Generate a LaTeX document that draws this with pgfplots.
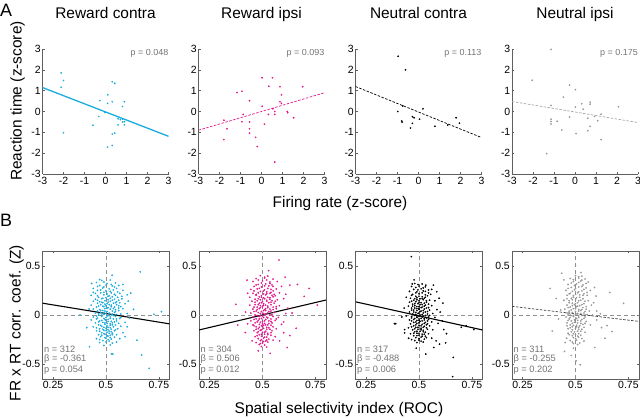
\documentclass[border=0pt]{standalone}
\usepackage{fontspec}
\setmainfont{Liberation Sans}
\usepackage{pgfplots}
\pgfplotsset{compat=1.18}
\definecolor{cy}{RGB}{25,172,222}
\definecolor{mg}{RGB}{228,22,140}
\definecolor{gr}{RGB}{150,150,150}
\definecolor{axg}{RGB}{95,95,95}
\definecolor{txg}{RGB}{115,115,115}
\newcommand{\lab}{\fontsize{15.5}{18}\selectfont}
\tikzset{
 ptxt/.style={anchor=east, text=txg, font=\fontsize{9}{9}\selectfont, inner sep=0pt},
 btxt/.style={anchor=west, text=txg, font=\fontsize{9.3}{9}\selectfont, inner sep=0pt},
 zl/.style={axg!70, dash pattern=on 4bp off 3bp, line width=0.5bp}
}
\pgfplotsset{
 Aaxis/.style={scale only axis, width=126bp, height=125bp, anchor=south west,
   xmin=-3, xmax=3, ymin=-3, ymax=3,
   axis x line*=bottom, axis y line*=left,
   axis line style={axg, line width=0.6bp},
   tick align=inside, major tick length=2bp, tick style={axg, line width=0.5bp},
   xtick={-3,-2,-1,0,1,2,3}, ytick={-3,-2,-1,0,1,2,3},
   xticklabels={-3,-2,-1,0,1,2,3}, yticklabels={-3,-2,-1,0,1,2,3},
   tick label style={font=\fontsize{10.5}{10}\selectfont},
   xticklabel style={inner xsep=1.3bp, inner ysep=0bp, yshift=-3.2bp},
   yticklabel style={inner xsep=1.5bp, inner ysep=0bp}},
 Baxis/.style={scale only axis, width=127bp, height=128bp, anchor=south west,
   xmin=0.2, xmax=0.8, ymin=-0.65, ymax=0.65,
   axis line style={axg, line width=0.6bp},
   tick align=inside, major tick length=2bp, tick style={axg, line width=0.5bp},
   xtick={0.25,0.5,0.75}, xticklabels={0.25,0.5,0.75},
   ytick={-0.5,0,0.5}, yticklabels={-0.5,0,0.5},
   tick label style={font=\fontsize{10.5}{10}\selectfont},
   xticklabel style={inner sep=2bp}, yticklabel style={inner sep=2bp}},
 pts/.style={only marks, mark=*, mark size=0.7bp, mark options={draw=#1, fill=#1, line width=0.3bp}}
}
\begin{document}
\begin{tikzpicture}
\path[use as bounding box] (0,0) rectangle (640bp,418bp);
% ---------- Panel A ----------
\begin{axis}[Aaxis, at={(42.5bp,244bp)}]
\addplot[pts=cy] coordinates {(-2.11,1.85)(-2.0,1.49)(-2.11,1.16)(-2.0,-1.02)(-0.27,0.52)(0.11,0.8)(0.1,0.39)(0.32,1.43)(0.44,1.35)(0.32,0.47)(0.9,0.47)(0.81,0.24)(-0.02,-0.05)(-0.32,-0.24)(-0.6,-0.66)(0.6,-0.35)(0.6,-0.64)(0.81,-0.36)(0.81,-0.5)(0.9,-0.49)(0.9,-0.64)(0.71,-0.39)(0.32,-1.08)(0.44,-1.04)(0.1,-1.71)(0.32,-1.63)};
\addplot[cy, line width=1.3bp] coordinates {(-3,1.15)(3,-1.19)};
\node[ptxt] at (axis cs:3,2.8) {p = 0.048};
\end{axis}
\begin{axis}[Aaxis, at={(198.5bp,244bp)}]
\addplot[pts=mg] coordinates {(0.03,1.62)(0.52,1.62)(0.35,1.21)(0.88,1.19)(1.96,1.19)(-1.17,0.91)(-0.93,0.97)(-0.57,0.52)(0.95,0.8)(0.88,0.47)(0.95,0.39)(0.03,0.25)(0.54,0.13)(0.63,0)(0.63,-0.14)(0.33,-0.14)(1.23,0)(1.25,-0.06)(1.53,-0.3)(-0.87,-0.14)(-0.93,-0.49)(-1.79,-0.42)(-1.64,-0.83)(-1.79,-1.35)(-0.57,-0.5)(-0.57,-0.83)(-0.57,-1.04)(-0.28,-1.24)(-0.2,-1.68)(0.14,-0.61)(0.63,-2.43)};
\addplot[mg, line width=0.7bp, dash pattern=on 2.5bp off 1.5bp] coordinates {(-3,-0.9)(3,0.9)};
\node[ptxt] at (axis cs:3,2.8) {p = 0.093};
\end{axis}
\begin{axis}[Aaxis, at={(355.5bp,244bp)}]
\addplot[pts=black] coordinates {(-0.97,2.65)(-0.62,2.0)(-0.99,0)(-0.8,-0.46)(-0.78,-0.51)(-0.29,-0.25)(-0.21,-0.3)(-0.29,-0.57)(-0.38,-0.79)(0.05,-0.37)(0.21,0.13)(0.78,-0.71)(1.39,-0.65)(1.79,-0.3)(1.95,-0.56)(-0.75,0.27)};
\addplot[black, line width=0.7bp, dash pattern=on 2.5bp off 1.5bp] coordinates {(-3,1.2)(3,-1.25)};
\node[ptxt] at (axis cs:3,2.8) {p = 0.113};
\end{axis}
\begin{axis}[Aaxis, at={(512bp,244bp)}]
\addplot[pts=gr] coordinates {(-1.14,2.98)(-2.04,1.5)(-0.26,1.27)(0.02,1.05)(-0.55,0.69)(-1.14,0.29)(0.32,0.37)(0.72,0.45)(0.72,0.35)(0.02,0.21)(0.39,0.11)(2.07,0.23)(-0.26,-0.26)(-0.85,-0.47)(-1.14,-0.37)(-1.14,-0.48)(-1.14,-0.6)(-0.63,-0.89)(0.05,-1.06)(0.61,-0.32)(0.93,-0.24)(1.08,-0.44)(1.24,-0.13)(0.72,-0.71)(0.61,-0.92)(1.24,-1.35)(-1.35,-2.02)};
\addplot[gr!85, line width=0.7bp, dash pattern=on 2.5bp off 1.5bp] coordinates {(-3,0.48)(3,-0.53)};
\node[ptxt] at (axis cs:3,2.8) {p = 0.175};
\end{axis}
% ---------- Panel B ----------
\begin{axis}[Baxis, at={(42.5bp,39bp)}]
\addplot[zl] coordinates {(0.5,-0.65)(0.5,0.65)};
\addplot[zl] coordinates {(0.2,0)(0.8,0)};
\addplot[pts=cy] coordinates {
(0.47,0.36)(0.52,0.355)(0.455,0.33)(0.49,0.335)(0.545,0.325)
(0.47,0.30)(0.50,0.305)(0.53,0.295)(0.56,0.30)(0.44,0.27)(0.485,0.275)(0.515,0.265)(0.55,0.27)
(0.46,0.25)(0.50,0.245)(0.535,0.255)(0.58,0.25)(0.45,0.22)(0.475,0.225)(0.505,0.215)(0.525,0.225)(0.565,0.22)
(0.43,0.20)(0.49,0.205)(0.515,0.195)(0.545,0.20)(0.60,0.205)(0.465,0.18)(0.50,0.175)(0.53,0.185)(0.555,0.18)
(0.45,0.16)(0.48,0.165)(0.51,0.155)(0.54,0.16)(0.575,0.165)(0.44,0.14)(0.47,0.135)(0.495,0.145)(0.52,0.14)(0.55,0.135)
(0.46,0.12)(0.485,0.125)(0.505,0.115)(0.535,0.12)(0.565,0.125)(0.59,0.115)(0.43,0.10)(0.475,0.105)(0.50,0.095)(0.525,0.10)(0.55,0.105)
(0.455,0.08)(0.49,0.085)(0.51,0.075)(0.54,0.08)(0.57,0.085)(0.44,0.06)(0.47,0.055)(0.495,0.065)(0.52,0.06)(0.545,0.055)(0.58,0.065)
(0.46,0.04)(0.485,0.045)(0.505,0.035)(0.53,0.04)(0.56,0.045)(0.45,0.02)(0.475,0.025)(0.50,0.015)(0.515,0.02)(0.54,0.025)(0.60,0.015)
(0.465,0.00)(0.49,0.005)(0.51,-0.005)(0.525,0.00)(0.55,0.005)(0.44,-0.02)(0.48,-0.015)(0.50,-0.025)(0.52,-0.02)(0.545,-0.015)(0.57,-0.025)
(0.455,-0.04)(0.49,-0.035)(0.51,-0.045)(0.535,-0.04)(0.565,-0.035)(0.47,-0.06)(0.50,-0.055)(0.525,-0.065)(0.55,-0.06)
(0.45,-0.08)(0.485,-0.075)(0.505,-0.085)(0.53,-0.08)(0.59,-0.075)(0.465,-0.10)(0.495,-0.095)(0.52,-0.105)(0.545,-0.10)
(0.44,-0.12)(0.48,-0.115)(0.51,-0.125)(0.535,-0.12)(0.57,-0.115)(0.47,-0.14)(0.50,-0.135)(0.525,-0.145)(0.555,-0.14)
(0.455,-0.16)(0.49,-0.155)(0.515,-0.165)(0.54,-0.16)(0.48,-0.18)(0.505,-0.175)(0.53,-0.185)(0.58,-0.18)
(0.465,-0.20)(0.495,-0.195)(0.52,-0.205)(0.55,-0.20)(0.475,-0.22)(0.51,-0.215)(0.54,-0.225)
(0.455,-0.24)(0.50,-0.235)(0.525,-0.245)(0.565,-0.24)(0.485,-0.26)(0.515,-0.265)(0.47,-0.28)(0.53,-0.285)(0.55,-0.275)(0.49,-0.31)(0.52,-0.305)
(0.662,0.438)(0.727,0.007)(0.762,0.034)(0.377,0)(0.409,-0.128)(0.422,-0.323)(0.532,-0.397)(0.526,-0.397)(0.646,-0.256)(0.668,-0.407)(0.704,-0.542)
(0.529,0.404)(0.432,0.32)(0.617,0.222)(0.605,0.141)(0.63,0.057)(0.61,-0.03)(0.60,-0.12)(0.42,0.06)(0.43,-0.05)(0.58,0.31)(0.59,-0.22)};
\addplot[pts=cy] coordinates {
(0.48,0.35)(0.505,0.32)(0.525,0.31)(0.46,0.29)(0.49,0.285)(0.54,0.285)(0.475,0.255)(0.52,0.24)(0.555,0.235)(0.44,0.23)(0.49,0.23)(0.54,0.21)
(0.46,0.195)(0.51,0.19)(0.575,0.19)(0.485,0.17)(0.52,0.17)(0.46,0.15)(0.53,0.15)(0.56,0.15)(0.48,0.13)(0.51,0.13)(0.545,0.125)(0.495,0.11)
(0.515,0.105)(0.56,0.095)(0.465,0.09)(0.485,0.09)(0.525,0.085)(0.505,0.07)(0.535,0.065)(0.56,0.07)(0.475,0.045)(0.495,0.04)(0.545,0.035)
(0.465,0.015)(0.49,0.02)(0.53,0.01)(0.57,0.01)(0.455,-0.01)(0.48,0.0)(0.505,-0.01)(0.535,-0.005)(0.46,-0.03)(0.495,-0.045)(0.52,-0.035)
(0.55,-0.04)(0.48,-0.055)(0.51,-0.065)(0.54,-0.07)(0.465,-0.07)(0.495,-0.08)(0.52,-0.09)(0.56,-0.085)(0.475,-0.105)(0.505,-0.11)(0.53,-0.1)
(0.455,-0.13)(0.49,-0.125)(0.52,-0.13)(0.485,-0.145)(0.51,-0.15)(0.545,-0.15)(0.47,-0.165)(0.5,-0.16)(0.525,-0.17)(0.49,-0.19)(0.515,-0.185)
(0.48,-0.205)(0.505,-0.21)(0.53,-0.2)(0.495,-0.23)(0.52,-0.23)(0.47,-0.25)(0.51,-0.25)(0.5,-0.275)};
\addplot[black, line width=1.1bp] coordinates {(0.2,0.12)(0.8,-0.09)};
\node[btxt] at (axis cs:0.207,-0.35) {n = 312};
\node[btxt] at (axis cs:0.207,-0.452) {β = -0.361};
\node[btxt] at (axis cs:0.207,-0.556) {p = 0.054};
\end{axis}
\begin{axis}[Baxis, at={(199bp,39bp)}]
\addplot[zl] coordinates {(0.5,-0.65)(0.5,0.65)};
\addplot[zl] coordinates {(0.2,0)(0.8,0)};
\addplot[pts=mg] coordinates {
(0.49,0.40)(0.525,0.395)(0.47,0.37)(0.51,0.375)(0.55,0.365)(0.455,0.34)(0.50,0.345)(0.535,0.335)(0.57,0.34)
(0.48,0.31)(0.515,0.315)(0.545,0.305)(0.46,0.29)(0.495,0.285)(0.53,0.295)(0.59,0.29)
(0.445,0.26)(0.475,0.265)(0.51,0.255)(0.54,0.26)(0.565,0.265)(0.49,0.24)(0.52,0.235)(0.55,0.245)
(0.455,0.22)(0.48,0.225)(0.505,0.215)(0.535,0.22)(0.58,0.225)(0.47,0.20)(0.495,0.195)(0.515,0.205)(0.545,0.20)(0.56,0.195)
(0.44,0.18)(0.485,0.185)(0.505,0.175)(0.525,0.18)(0.55,0.185)(0.465,0.16)(0.49,0.155)(0.51,0.165)(0.535,0.16)(0.57,0.155)(0.60,0.165)
(0.45,0.14)(0.475,0.145)(0.50,0.135)(0.52,0.14)(0.545,0.145)(0.485,0.12)(0.505,0.115)(0.53,0.125)(0.555,0.12)
(0.44,0.10)(0.465,0.105)(0.49,0.095)(0.515,0.10)(0.54,0.105)(0.58,0.095)(0.475,0.08)(0.50,0.085)(0.525,0.075)(0.55,0.08)
(0.455,0.06)(0.485,0.065)(0.51,0.055)(0.535,0.06)(0.565,0.065)(0.47,0.04)(0.495,0.035)(0.515,0.045)(0.54,0.04)
(0.445,0.02)(0.48,0.025)(0.505,0.015)(0.525,0.02)(0.555,0.025)(0.61,0.015)(0.465,0.00)(0.49,-0.005)(0.51,0.005)(0.535,0.00)
(0.455,-0.02)(0.485,-0.015)(0.505,-0.025)(0.52,-0.02)(0.55,-0.015)(0.575,-0.025)(0.47,-0.04)(0.495,-0.035)(0.515,-0.045)(0.54,-0.04)
(0.445,-0.06)(0.48,-0.055)(0.50,-0.065)(0.53,-0.06)(0.56,-0.055)(0.465,-0.08)(0.49,-0.075)(0.51,-0.085)(0.545,-0.08)
(0.455,-0.10)(0.485,-0.095)(0.505,-0.105)(0.525,-0.10)(0.59,-0.095)(0.47,-0.12)(0.50,-0.115)(0.52,-0.125)(0.55,-0.12)
(0.48,-0.14)(0.505,-0.135)(0.535,-0.145)(0.565,-0.14)(0.46,-0.16)(0.49,-0.155)(0.515,-0.165)(0.545,-0.16)
(0.475,-0.18)(0.50,-0.175)(0.525,-0.185)(0.60,-0.18)(0.485,-0.20)(0.51,-0.195)(0.54,-0.205)
(0.465,-0.22)(0.495,-0.215)(0.52,-0.225)(0.56,-0.22)(0.48,-0.24)(0.505,-0.235)(0.53,-0.245)
(0.49,-0.26)(0.515,-0.265)(0.55,-0.255)(0.47,-0.28)(0.50,-0.285)(0.525,-0.275)(0.485,-0.30)(0.51,-0.305)(0.495,-0.32)(0.52,-0.325)
(0.578,0.559)(0.529,0.451)(0.427,0.354)(0.607,0.384)(0.629,0.303)(0.665,0.31)(0.697,0.189)(0.72,0.27)(0.759,0.101)
(0.374,0.108)(0.383,-0.101)(0.419,-0.178)(0.659,-0.135)(0.629,-0.209)(0.617,-0.33)(0.536,-0.39)(0.48,-0.364)(0.581,-0.263)(0.451,-0.263)
(0.42,0.03)(0.43,0.22)(0.62,0.07)(0.61,0.21)(0.64,0.02)(0.60,-0.07)(0.43,-0.09)};
\addplot[pts=mg] coordinates {
(0.51,0.385)(0.48,0.355)(0.52,0.355)(0.495,0.325)(0.535,0.32)(0.47,0.305)(0.51,0.295)(0.55,0.29)(0.485,0.27)(0.525,0.27)(0.46,0.245)(0.505,0.245)
(0.54,0.23)(0.47,0.21)(0.52,0.215)(0.555,0.21)(0.495,0.18)(0.535,0.175)(0.48,0.165)(0.52,0.15)(0.56,0.14)(0.465,0.13)(0.495,0.125)(0.54,0.13)
(0.48,0.105)(0.505,0.1)(0.525,0.09)(0.565,0.085)(0.46,0.08)(0.49,0.075)(0.515,0.065)(0.55,0.055)(0.475,0.055)(0.505,0.045)(0.53,0.035)(0.46,0.035)
(0.49,0.015)(0.515,0.01)(0.545,0.005)(0.475,-0.005)(0.5,-0.01)(0.525,-0.03)(0.565,-0.04)(0.46,-0.045)(0.485,-0.04)(0.51,-0.06)(0.54,-0.065)
(0.475,-0.07)(0.5,-0.09)(0.53,-0.085)(0.46,-0.11)(0.495,-0.11)(0.515,-0.1)(0.54,-0.105)(0.485,-0.125)(0.53,-0.13)(0.47,-0.145)(0.495,-0.15)
(0.52,-0.145)(0.48,-0.17)(0.51,-0.175)(0.54,-0.18)(0.495,-0.195)(0.525,-0.2)(0.475,-0.21)(0.51,-0.225)(0.495,-0.25)(0.52,-0.255)(0.505,-0.27)(0.49,-0.29)};
\addplot[black, line width=1.1bp] coordinates {(0.2,-0.152)(0.8,0.152)};
\node[btxt] at (axis cs:0.207,-0.35) {n = 304};
\node[btxt] at (axis cs:0.207,-0.452) {β = 0.506};
\node[btxt] at (axis cs:0.207,-0.556) {p = 0.012};
\end{axis}
\begin{axis}[Baxis, at={(355.5bp,39bp)}]
\addplot[zl] coordinates {(0.5,-0.65)(0.5,0.65)};
\addplot[zl] coordinates {(0.2,0)(0.8,0)};
\addplot[pts=black] coordinates {
(0.48,0.32)(0.515,0.315)(0.465,0.29)(0.50,0.295)(0.53,0.285)(0.475,0.26)(0.51,0.265)(0.545,0.255)(0.56,0.26)
(0.455,0.24)(0.49,0.235)(0.52,0.245)(0.47,0.21)(0.50,0.215)(0.53,0.205)(0.555,0.21)(0.485,0.19)(0.515,0.185)(0.54,0.195)
(0.46,0.17)(0.49,0.175)(0.505,0.165)(0.525,0.17)(0.475,0.15)(0.50,0.145)(0.52,0.155)(0.55,0.15)(0.575,0.145)
(0.455,0.13)(0.485,0.135)(0.51,0.125)(0.535,0.13)(0.47,0.11)(0.495,0.115)(0.515,0.105)(0.545,0.11)
(0.45,0.09)(0.48,0.095)(0.50,0.085)(0.525,0.09)(0.56,0.095)(0.465,0.07)(0.49,0.065)(0.51,0.075)(0.535,0.07)
(0.475,0.05)(0.50,0.055)(0.52,0.045)(0.55,0.05)(0.585,0.055)(0.455,0.03)(0.485,0.025)(0.505,0.035)(0.53,0.03)
(0.47,0.01)(0.495,0.015)(0.515,0.005)(0.54,0.01)(0.565,0.015)(0.44,-0.01)(0.48,-0.005)(0.50,-0.015)(0.52,-0.01)(0.55,-0.005)
(0.465,-0.03)(0.49,-0.025)(0.51,-0.035)(0.535,-0.03)(0.575,-0.025)(0.455,-0.05)(0.475,-0.045)(0.50,-0.055)(0.525,-0.05)(0.545,-0.045)
(0.485,-0.07)(0.505,-0.065)(0.53,-0.075)(0.56,-0.07)(0.46,-0.09)(0.49,-0.085)(0.515,-0.095)(0.54,-0.09)(0.59,-0.085)
(0.475,-0.11)(0.50,-0.105)(0.525,-0.115)(0.55,-0.11)(0.45,-0.13)(0.485,-0.125)(0.51,-0.135)(0.535,-0.13)
(0.47,-0.15)(0.495,-0.145)(0.52,-0.155)(0.565,-0.15)(0.48,-0.17)(0.505,-0.165)(0.53,-0.175)
(0.46,-0.19)(0.49,-0.185)(0.515,-0.195)(0.545,-0.19)(0.475,-0.21)(0.50,-0.205)(0.53,-0.215)
(0.485,-0.23)(0.51,-0.225)(0.56,-0.235)(0.465,-0.25)(0.50,-0.255)(0.525,-0.245)(0.49,-0.28)(0.52,-0.275)
(0.464,0.593)(0.39,-0.088)(0.384,-0.088)(0.662,-0.431)(0.659,-0.626)(0.532,-0.397)(0.487,-0.337)(0.57,-0.33)
(0.759,-0.148)(0.723,-0.108)(0.70,-0.125)(0.617,-0.148)(0.63,-0.189)(0.568,0.303)(0.532,0.303)(0.477,0.357)(0.468,0.316)
(0.584,0.236)(0.613,0.121)(0.419,-0.02)(0.432,-0.148)(0.432,-0.182)(0.451,-0.236)(0.626,-0.283)(0.581,-0.263)(0.597,-0.296)
(0.60,0.03)(0.61,-0.06)(0.43,0.07)(0.44,0.18)(0.595,0.17)};
\addplot[pts=black] coordinates {
(0.495,0.31)(0.485,0.28)(0.52,0.275)(0.495,0.255)(0.53,0.24)(0.485,0.225)(0.515,0.225)(0.545,0.225)(0.465,0.2)(0.5,0.19)(0.53,0.18)(0.48,0.165)
(0.515,0.165)(0.49,0.155)(0.535,0.145)(0.465,0.14)(0.5,0.125)(0.525,0.12)(0.48,0.115)(0.505,0.105)(0.53,0.1)(0.47,0.09)(0.49,0.085)(0.515,0.08)
(0.545,0.075)(0.48,0.07)(0.5,0.065)(0.525,0.06)(0.465,0.05)(0.49,0.045)(0.51,0.04)(0.54,0.035)(0.475,0.03)(0.5,0.02)(0.52,0.02)(0.485,0.005)
(0.505,0.0)(0.53,-0.005)(0.465,-0.015)(0.49,-0.02)(0.515,-0.02)(0.545,-0.02)(0.48,-0.035)(0.5,-0.04)(0.525,-0.035)(0.465,-0.06)(0.49,-0.055)
(0.515,-0.06)(0.54,-0.06)(0.475,-0.075)(0.5,-0.08)(0.525,-0.085)(0.485,-0.1)(0.51,-0.11)(0.535,-0.1)(0.465,-0.12)(0.495,-0.125)(0.52,-0.125)
(0.48,-0.14)(0.51,-0.15)(0.54,-0.145)(0.49,-0.165)(0.52,-0.17)(0.475,-0.185)(0.5,-0.185)(0.525,-0.195)(0.49,-0.21)(0.515,-0.215)(0.5,-0.24)
(0.535,-0.23)(0.48,-0.26)(0.51,-0.265)};
\addplot[black, line width=1.1bp] coordinates {(0.2,0.134)(0.8,-0.152)};
\node[btxt] at (axis cs:0.207,-0.35) {n = 317};
\node[btxt] at (axis cs:0.207,-0.452) {β = -0.488};
\node[btxt] at (axis cs:0.207,-0.556) {p = 0.006};
\end{axis}
\begin{axis}[Baxis, at={(512bp,39bp)}]
\addplot[zl] coordinates {(0.5,-0.65)(0.5,0.65)};
\addplot[zl] coordinates {(0.2,0)(0.8,0)};
\addplot[pts=gr] coordinates {
(0.50,0.40)(0.53,0.395)(0.475,0.37)(0.515,0.375)(0.545,0.365)(0.49,0.34)(0.525,0.345)(0.56,0.335)
(0.465,0.31)(0.505,0.315)(0.535,0.305)(0.48,0.28)(0.515,0.285)(0.55,0.275)(0.455,0.25)(0.495,0.255)(0.53,0.245)(0.57,0.25)
(0.475,0.22)(0.51,0.225)(0.54,0.215)(0.46,0.20)(0.49,0.195)(0.52,0.205)(0.555,0.20)(0.48,0.17)(0.505,0.175)(0.535,0.165)
(0.445,0.15)(0.47,0.145)(0.50,0.155)(0.525,0.15)(0.56,0.145)(0.485,0.12)(0.51,0.125)(0.54,0.115)
(0.46,0.10)(0.495,0.105)(0.52,0.095)(0.575,0.10)(0.475,0.08)(0.505,0.085)(0.535,0.075)
(0.45,0.06)(0.49,0.065)(0.515,0.055)(0.55,0.06)(0.47,0.04)(0.50,0.035)(0.525,0.045)(0.565,0.04)
(0.46,0.02)(0.485,0.025)(0.51,0.015)(0.54,0.02)(0.475,0.00)(0.50,0.005)(0.53,-0.005)(0.58,0.00)
(0.455,-0.02)(0.49,-0.015)(0.515,-0.025)(0.545,-0.02)(0.47,-0.04)(0.505,-0.035)(0.53,-0.045)
(0.48,-0.06)(0.51,-0.055)(0.55,-0.065)(0.46,-0.08)(0.495,-0.075)(0.525,-0.085)
(0.475,-0.10)(0.505,-0.105)(0.535,-0.095)(0.57,-0.10)(0.485,-0.12)(0.515,-0.125)
(0.465,-0.14)(0.50,-0.135)(0.53,-0.145)(0.48,-0.17)(0.51,-0.165)(0.545,-0.175)
(0.47,-0.20)(0.50,-0.195)(0.525,-0.205)(0.49,-0.23)(0.515,-0.225)(0.475,-0.26)(0.505,-0.255)(0.54,-0.265)(0.49,-0.29)(0.52,-0.285)
(0.50,0.505)(0.435,0.424)(0.38,0.27)(0.526,0.431)(0.662,0.229)(0.727,0.118)(0.39,-0.162)(0.672,-0.168)(0.649,-0.108)
(0.623,-0.128)(0.639,-0.236)(0.591,-0.33)(0.448,-0.37)(0.48,-0.411)(0.49,-0.337)(0.503,-0.465)(0.523,-0.505)(0.458,-0.236)
(0.451,-0.28)(0.597,0.192)(0.586,0.125)(0.60,0.04)(0.618,0.013)(0.445,0.357)(0.409,0.168)(0.43,0.05)(0.42,-0.04)(0.60,-0.05)(0.59,0.28)};
\addplot[pts=gr] coordinates {
(0.515,0.39)(0.49,0.36)(0.53,0.355)(0.48,0.325)(0.515,0.33)(0.55,0.32)(0.495,0.3)(0.53,0.29)(0.465,0.27)(0.5,0.27)(0.54,0.26)(0.485,0.24)
(0.515,0.235)(0.555,0.23)(0.47,0.215)(0.5,0.21)(0.535,0.2)(0.49,0.18)(0.52,0.18)(0.46,0.165)(0.485,0.155)(0.515,0.145)(0.545,0.14)(0.47,0.125)
(0.5,0.115)(0.53,0.105)(0.485,0.095)(0.51,0.09)(0.55,0.085)(0.465,0.075)(0.5,0.065)(0.53,0.055)(0.48,0.05)(0.515,0.04)(0.545,0.035)(0.47,0.02)
(0.5,0.02)(0.525,0.015)(0.555,0.005)(0.465,0.0)(0.49,-0.005)(0.515,-0.01)(0.475,-0.025)(0.5,-0.03)(0.54,-0.035)(0.465,-0.055)(0.495,-0.05)
(0.525,-0.06)(0.485,-0.085)(0.51,-0.08)(0.545,-0.085)(0.46,-0.11)(0.49,-0.105)(0.52,-0.11)(0.475,-0.13)(0.505,-0.12)(0.54,-0.125)(0.485,-0.15)
(0.515,-0.145)(0.495,-0.17)(0.525,-0.165)(0.465,-0.185)(0.49,-0.19)(0.515,-0.19)(0.485,-0.21)(0.51,-0.215)(0.5,-0.24)(0.53,-0.24)(0.485,-0.275)(0.51,-0.3)};
\addplot[black!75, line width=0.7bp, dash pattern=on 2.5bp off 1.5bp] coordinates {(0.2,0.088)(0.8,-0.065)};
\node[btxt] at (axis cs:0.207,-0.35) {n = 311};
\node[btxt] at (axis cs:0.207,-0.452) {β = -0.255};
\node[btxt] at (axis cs:0.207,-0.556) {p = 0.202};
\end{axis}
% ---------- Outer text ----------
\node[anchor=base west, inner sep=0pt, font=\fontsize{18}{18}\selectfont] at (0bp,401.5bp) {A};
\node[anchor=base west, inner sep=0pt, font=\fontsize{18}{18}\selectfont] at (0bp,191.3bp) {B};
\node[anchor=base, inner sep=0pt, font=\lab] at (105.5bp,399.5bp) {Reward contra};
\node[anchor=base, inner sep=0pt, font=\lab] at (261.5bp,399.5bp) {Reward ipsi};
\node[anchor=base, inner sep=0pt, font=\lab] at (418.5bp,399.5bp) {Neutral contra};
\node[anchor=base, inner sep=0pt, font=\lab] at (575bp,399.5bp) {Neutral ipsi};
\node[anchor=base, inner sep=0pt, font=\lab] at (340bp,210bp) {Firing rate (z-score)};
\node[anchor=base, inner sep=0pt, font=\lab] at (339bp,4.5bp) {Spatial selectivity index (ROC)};
\node[anchor=base, rotate=90, inner sep=0pt, font=\lab] at (21.5bp,317bp) {Reaction time (z-score)};
\node[anchor=base, rotate=90, inner sep=0pt, font=\lab] at (20.7bp,95bp) {FR x RT corr. coef. (Z)};
\end{tikzpicture}
\end{document}
